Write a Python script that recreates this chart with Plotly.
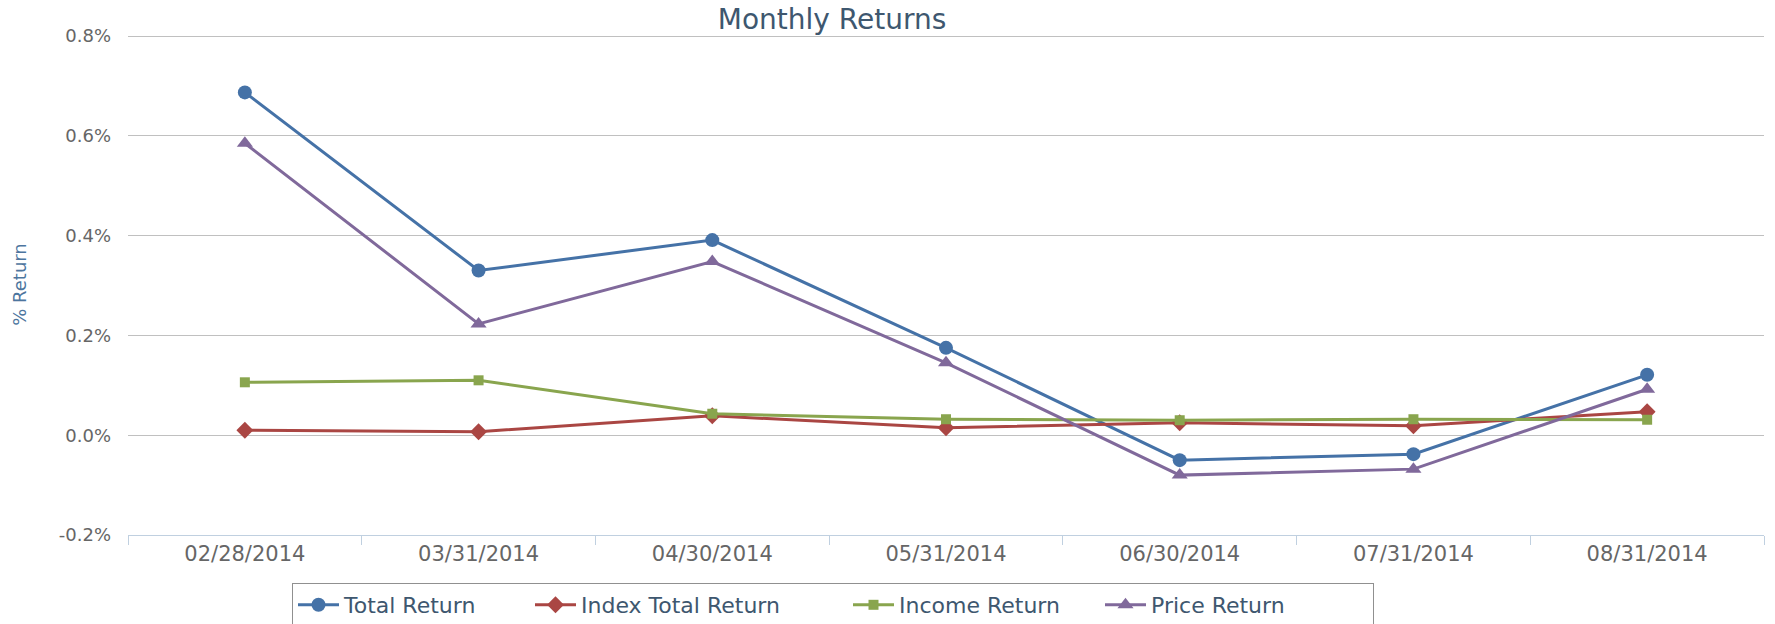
import plotly.graph_objects as go

categories = ["02/28/2014", "03/31/2014", "04/30/2014", "05/31/2014",
              "06/30/2014", "07/31/2014", "08/31/2014"]
total_return = [0.687, 0.330, 0.391, 0.175, -0.050, -0.038, 0.121]
index_total_return = [0.010, 0.007, 0.039, 0.015, 0.025, 0.019, 0.047]
income_return = [0.106, 0.110, 0.043, 0.032, 0.030, 0.032, 0.031]
price_return = [0.585, 0.223, 0.348, 0.145, -0.080, -0.068, 0.092]
y_ticks = [-0.2, 0.0, 0.2, 0.4, 0.6, 0.8]

FONT = "DejaVu Sans"

series = [
    ("Total Return", total_return, "#4572A7", "circle", 14, 181),
    ("Index Total Return", index_total_return, "#AA4643", "diamond", 13, 262),
    ("Income Return", income_return, "#89A54E", "square", 10, 196),
    ("Price Return", price_return, "#80699B", "triangle-up", 14, 217),
]

fig = go.Figure()
for name, vals, color, sym, size, lw in series:
    fig.add_trace(go.Scatter(
        x=categories, y=vals, name=name, mode="lines+markers",
        line=dict(color=color, width=3),
        marker=dict(symbol=sym, size=size, color=color),
        legendwidth=lw,
    ))

fig.update_layout(
    width=1775, height=624,
    paper_bgcolor="white", plot_bgcolor="white",
    margin=dict(l=128, r=11, t=34, b=89, autoexpand=False),
    title=dict(text="Monthly Returns", x=832 / 1775, xanchor="center",
               y=1 - 19 / 624, yanchor="middle", xref="container", yref="container",
               font=dict(family=FONT, size=28, color="#3E576F")),
    showlegend=True,
    legend=dict(orientation="h", xref="container", yref="container",
                x=292 / 1775, xanchor="left",
                y=1 - 583 / 624, yanchor="top",
                bordercolor="#909090", borderwidth=1, itemwidth=41,
                font=dict(family=FONT, size=22, color="#3E576F")),
    font=dict(family=FONT),
)

fig.update_xaxes(
    type="category", range=[-0.5, 6.5], automargin=False,
    showgrid=False, showline=True, linecolor="#C0D0E0", linewidth=1,
    ticks="outside", tickson="boundaries", ticklen=9, tickcolor="#C0D0E0",
    tickfont=dict(family=FONT, size=21, color="#666666"),
)
fig.update_yaxes(
    range=[-0.2, 0.804], automargin=False,
    tickvals=y_ticks, ticktext=[f"{v:.1f}%" for v in y_ticks],
    showgrid=True, gridcolor="#C0C0C0", gridwidth=1, zeroline=False,
    ticks="", ticklabelstandoff=16,
    tickfont=dict(family=FONT, size=18, color="#666666"),
    title=dict(text="% Return", standoff=27,
               font=dict(family=FONT, size=18, color="#4D759E")),
)

fig.write_html("out.html", config={"displayModeBar": False},
               post_script="document.body.style.margin='0';document.body.style.overflow='hidden';")
